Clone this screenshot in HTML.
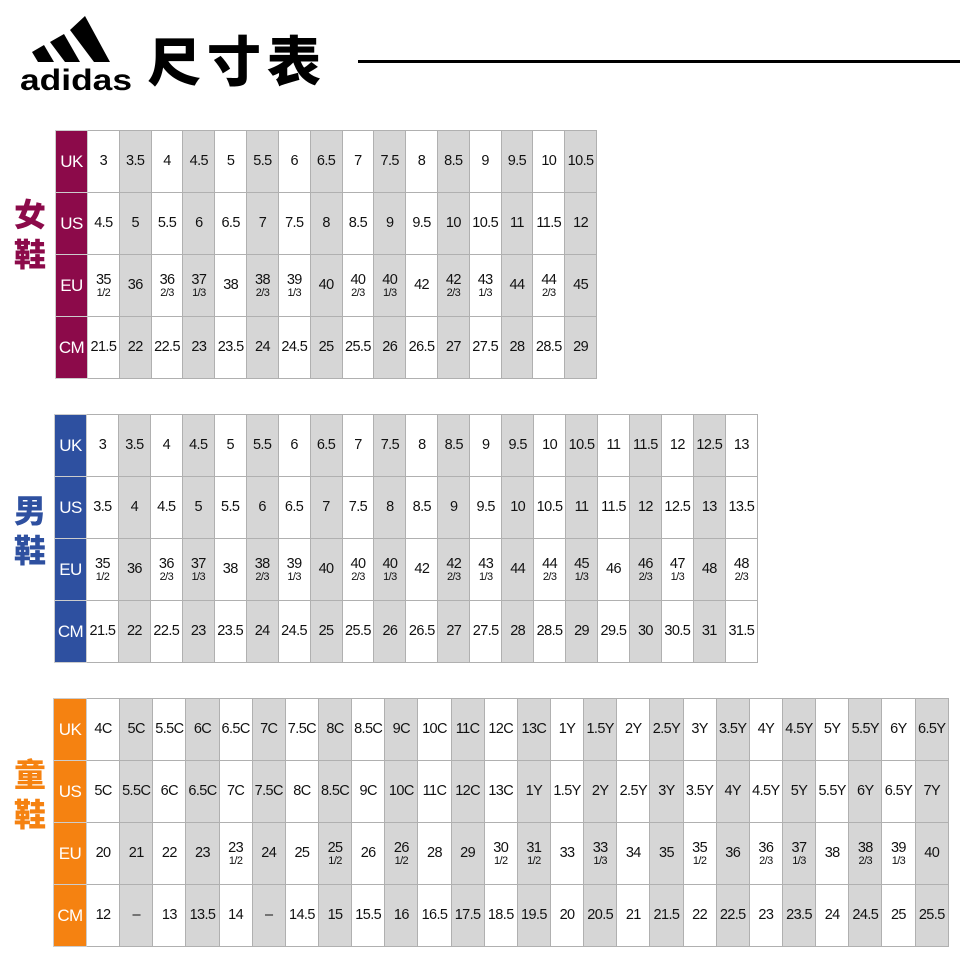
<!DOCTYPE html>
<html><head><meta charset="utf-8"><style>
body{margin:0;width:960px;height:960px;background:#fff;position:relative;overflow:hidden;font-family:"Liberation Sans","Noto Sans CJK TC",sans-serif}
table{position:absolute;border-collapse:collapse;table-layout:fixed}
tr{height:62px}
td{border:1px solid #b0b0b0;text-align:center;vertical-align:middle;font-size:14.5px;line-height:15px;color:#111;padding:0;letter-spacing:-0.6px;white-space:nowrap;overflow:hidden;height:61px}
td.h{color:#fff;font-size:17px;border-color:#ccc}
tr td:nth-child(odd):not(.h){background:#d6d6d6}
.f{display:block;font-size:11px;line-height:10px;margin-top:0}
.t{position:absolute;font-weight:900;font-size:32px;line-height:40px}
.w td.h{background:#8c0a4a}.m td.h{background:#2e50a0}.k td.h{background:#f58211}
</style></head><body>
<svg style="position:absolute;left:18px;top:12px" width="118" height="82" viewBox="0 0 118 82">
<polygon points="14,40 26,33 36,50 20,50" fill="#000"/>
<polygon points="32,30 46,22 62,50 47,50" fill="#000"/>
<polygon points="52,18 67,4 92,50 76,50" fill="#000"/>
<text x="2" y="78" font-family="Liberation Sans" font-weight="bold" font-size="30" textLength="112" lengthAdjust="spacingAndGlyphs" fill="#000">adidas</text>
</svg>
<div style="position:absolute;left:147px;top:26px;font-size:54px;font-weight:900;line-height:64px;letter-spacing:6px;font-family:'Noto Sans CJK TC',sans-serif">尺寸表</div>
<div style="position:absolute;left:358px;top:60px;width:602px;height:3px;background:#000"></div>

<div class="t" style="left:14px;top:195px;color:#8c0a4a">女<br>鞋</div>
<div class="t" style="left:14px;top:491px;color:#2e50a0">男<br>鞋</div>
<div class="t" style="left:14px;top:755px;color:#f58211">童<br>鞋</div>

<table class="w" style="left:55px;top:130px;width:542px">
<colgroup><col style="width:32px"></colgroup>
<tr><td class="h">UK</td><td>3</td><td>3.5</td><td>4</td><td>4.5</td><td>5</td><td>5.5</td><td>6</td><td>6.5</td><td>7</td><td>7.5</td><td>8</td><td>8.5</td><td>9</td><td>9.5</td><td>10</td><td>10.5</td></tr>
<tr><td class="h">US</td><td>4.5</td><td>5</td><td>5.5</td><td>6</td><td>6.5</td><td>7</td><td>7.5</td><td>8</td><td>8.5</td><td>9</td><td>9.5</td><td>10</td><td>10.5</td><td>11</td><td>11.5</td><td>12</td></tr>
<tr><td class="h">EU</td><td>35<span class="f">1/2</span></td><td>36</td><td>36<span class="f">2/3</span></td><td>37<span class="f">1/3</span></td><td>38</td><td>38<span class="f">2/3</span></td><td>39<span class="f">1/3</span></td><td>40</td><td>40<span class="f">2/3</span></td><td>40<span class="f">1/3</span></td><td>42</td><td>42<span class="f">2/3</span></td><td>43<span class="f">1/3</span></td><td>44</td><td>44<span class="f">2/3</span></td><td>45</td></tr>
<tr><td class="h">CM</td><td>21.5</td><td>22</td><td>22.5</td><td>23</td><td>23.5</td><td>24</td><td>24.5</td><td>25</td><td>25.5</td><td>26</td><td>26.5</td><td>27</td><td>27.5</td><td>28</td><td>28.5</td><td>29</td></tr>
</table>

<table class="m" style="left:54px;top:414px;width:704px">
<colgroup><col style="width:32px"></colgroup>
<tr><td class="h">UK</td><td>3</td><td>3.5</td><td>4</td><td>4.5</td><td>5</td><td>5.5</td><td>6</td><td>6.5</td><td>7</td><td>7.5</td><td>8</td><td>8.5</td><td>9</td><td>9.5</td><td>10</td><td>10.5</td><td>11</td><td>11.5</td><td>12</td><td>12.5</td><td>13</td></tr>
<tr><td class="h">US</td><td>3.5</td><td>4</td><td>4.5</td><td>5</td><td>5.5</td><td>6</td><td>6.5</td><td>7</td><td>7.5</td><td>8</td><td>8.5</td><td>9</td><td>9.5</td><td>10</td><td>10.5</td><td>11</td><td>11.5</td><td>12</td><td>12.5</td><td>13</td><td>13.5</td></tr>
<tr><td class="h">EU</td><td>35<span class="f">1/2</span></td><td>36</td><td>36<span class="f">2/3</span></td><td>37<span class="f">1/3</span></td><td>38</td><td>38<span class="f">2/3</span></td><td>39<span class="f">1/3</span></td><td>40</td><td>40<span class="f">2/3</span></td><td>40<span class="f">1/3</span></td><td>42</td><td>42<span class="f">2/3</span></td><td>43<span class="f">1/3</span></td><td>44</td><td>44<span class="f">2/3</span></td><td>45<span class="f">1/3</span></td><td>46</td><td>46<span class="f">2/3</span></td><td>47<span class="f">1/3</span></td><td>48</td><td>48<span class="f">2/3</span></td></tr>
<tr><td class="h">CM</td><td>21.5</td><td>22</td><td>22.5</td><td>23</td><td>23.5</td><td>24</td><td>24.5</td><td>25</td><td>25.5</td><td>26</td><td>26.5</td><td>27</td><td>27.5</td><td>28</td><td>28.5</td><td>29</td><td>29.5</td><td>30</td><td>30.5</td><td>31</td><td>31.5</td></tr>
</table>

<table class="k" style="left:53px;top:698px;width:896px">
<colgroup><col style="width:33px"></colgroup>
<tr><td class="h">UK</td><td>4C</td><td>5C</td><td>5.5C</td><td>6C</td><td>6.5C</td><td>7C</td><td>7.5C</td><td>8C</td><td>8.5C</td><td>9C</td><td>10C</td><td>11C</td><td>12C</td><td>13C</td><td>1Y</td><td>1.5Y</td><td>2Y</td><td>2.5Y</td><td>3Y</td><td>3.5Y</td><td>4Y</td><td>4.5Y</td><td>5Y</td><td>5.5Y</td><td>6Y</td><td>6.5Y</td></tr>
<tr><td class="h">US</td><td>5C</td><td>5.5C</td><td>6C</td><td>6.5C</td><td>7C</td><td>7.5C</td><td>8C</td><td>8.5C</td><td>9C</td><td>10C</td><td>11C</td><td>12C</td><td>13C</td><td>1Y</td><td>1.5Y</td><td>2Y</td><td>2.5Y</td><td>3Y</td><td>3.5Y</td><td>4Y</td><td>4.5Y</td><td>5Y</td><td>5.5Y</td><td>6Y</td><td>6.5Y</td><td>7Y</td></tr>
<tr><td class="h">EU</td><td>20</td><td>21</td><td>22</td><td>23</td><td>23<span class="f">1/2</span></td><td>24</td><td>25</td><td>25<span class="f">1/2</span></td><td>26</td><td>26<span class="f">1/2</span></td><td>28</td><td>29</td><td>30<span class="f">1/2</span></td><td>31<span class="f">1/2</span></td><td>33</td><td>33<span class="f">1/3</span></td><td>34</td><td>35</td><td>35<span class="f">1/2</span></td><td>36</td><td>36<span class="f">2/3</span></td><td>37<span class="f">1/3</span></td><td>38</td><td>38<span class="f">2/3</span></td><td>39<span class="f">1/3</span></td><td>40</td></tr>
<tr><td class="h">CM</td><td>12</td><td>–</td><td>13</td><td>13.5</td><td>14</td><td>–</td><td>14.5</td><td>15</td><td>15.5</td><td>16</td><td>16.5</td><td>17.5</td><td>18.5</td><td>19.5</td><td>20</td><td>20.5</td><td>21</td><td>21.5</td><td>22</td><td>22.5</td><td>23</td><td>23.5</td><td>24</td><td>24.5</td><td>25</td><td>25.5</td></tr>
</table>
</body></html>
